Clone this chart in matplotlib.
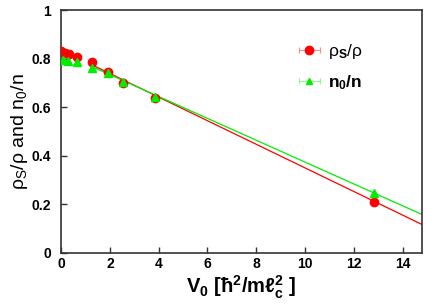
import numpy as np
import matplotlib
matplotlib.use("Agg")
import matplotlib.pyplot as plt
from matplotlib.container import ErrorbarContainer
from matplotlib.legend_handler import HandlerErrorbar

plt.rcParams['font.family'] = ['Liberation Sans', 'DejaVu Sans']
plt.rcParams['mathtext.fontset'] = 'custom'
plt.rcParams['mathtext.rm'] = 'Liberation Sans'
plt.rcParams['mathtext.bf'] = 'Liberation Sans:bold'
plt.rcParams['mathtext.it'] = 'Liberation Sans:italic'

# superfluid fraction rho_s/rho
v0_rho = [0.0, 0.16, 0.33, 0.64, 1.28, 1.93, 2.55, 3.84, 12.83]
rho_s = [0.832, 0.825, 0.820, 0.809, 0.785, 0.745, 0.701, 0.638, 0.210]
# condensate fraction n0/n
v0_n0 = [0.07, 0.30, 0.64, 1.28, 1.93, 2.55, 3.84, 12.83]
n0 = [0.795, 0.792, 0.787, 0.763, 0.740, 0.705, 0.642, 0.246]

# linear fits (intercept, slope), drawn from V0 = 1.28 on
fit_start = 1.28
fit_rho = (0.837, -0.0487)
fit_n0 = (0.825, -0.0451)

xmax = 14.78
xticks = [0, 2, 4, 6, 8, 10, 12, 14]
yticks = [0, 0.2, 0.4, 0.6, 0.8, 1.0]
ytick_labels = ['0', '0.2', '0.4', '0.6', '0.8', '1']

red = '#ff0000'
green = '#00ee00'

fig = plt.figure(figsize=(4.36, 3.05), dpi=100)
ax = fig.add_axes([0.140, 0.1715, 0.827, 0.7945])

xf = np.array([fit_start, xmax])
ax.plot(xf, fit_rho[0] + fit_rho[1] * xf, color=red, lw=0.9, zorder=2)
ax.plot(xf, fit_n0[0] + fit_n0[1] * xf, color=green, lw=0.9, zorder=2)

ax.plot(v0_rho, rho_s, 'o', color=red, ms=6, mec=red, zorder=3)
ax.plot(v0_n0, n0, '^', color=green, ms=6, mec=green, zorder=3)

# legend proxies styled like errorbar entries
h1 = ax.errorbar([np.nan], [np.nan], xerr=[0.1], fmt='o', color=red, ms=6,
                 ecolor='#ff8888', elinewidth=0.8, capsize=2.5, capthick=0.8)
h2 = ax.errorbar([np.nan], [np.nan], xerr=[0.1], fmt='^', color=green, ms=5,
                 ecolor='#88ff88', elinewidth=0.8, capsize=2.5, capthick=0.8)
leg = ax.legend([h1, h2], ['ρ$_\\mathbf{S}$/ρ', 'n$_\\mathbf{0}$/n'],
                handler_map={ErrorbarContainer: HandlerErrorbar(xerr_size=0.6)},
                loc='upper left', bbox_to_anchor=(0.665, 0.89),
                bbox_transform=fig.transFigure, frameon=False,
                fontsize=12.5, handlelength=1.25, handletextpad=0.45,
                labelspacing=0.7, borderpad=0)
leg.get_texts()[1].set_fontweight('bold')

ax.set_xlim(0, xmax)
ax.set_ylim(0, 1)
ax.set_xticks(xticks)
ax.set_yticks(yticks)
ax.set_yticklabels(ytick_labels)
ax.tick_params(direction='in', length=4, width=1, color='#333333',
               labelsize=10)
ax.tick_params(axis='y', pad=7)
ax.tick_params(axis='x', pad=3)
for lab in ax.get_xticklabels() + ax.get_yticklabels():
    lab.set_fontweight('bold')
for sp in ax.spines.values():
    sp.set_linewidth(1.2)
    sp.set_color('#333333')

ax.set_xlabel('V$_\\mathbf{0}$ [ħ$^\\mathbf{2}$/mℓ$_\\mathbf{c}^\\mathbf{2}$ ]',
              fontsize=14.5, fontweight='bold', labelpad=2)
ax.set_ylabel('ρ$_\\mathrm{S}$/ρ and n$_\\mathrm{0}$/n', fontsize=14,
              labelpad=1)

fig.savefig('out.png', dpi=100)
